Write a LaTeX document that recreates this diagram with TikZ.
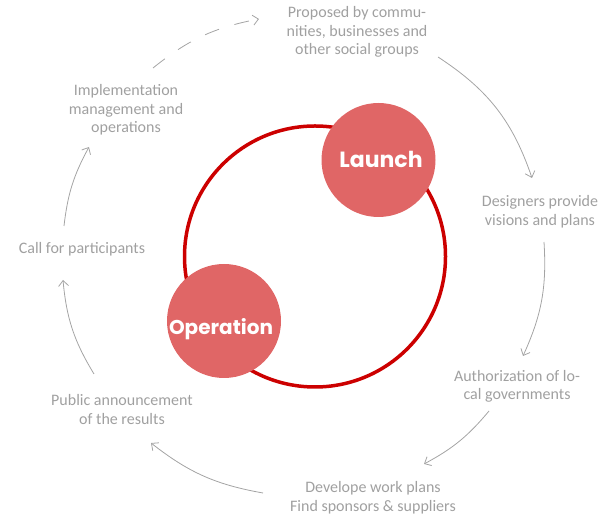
\documentclass[tikz,border=0pt]{standalone}
\usepackage{fontspec}
\setmainfont{Carlito}
\newfontfamily\headfont{Poppins}
\usetikzlibrary{arrows.meta}
\definecolor{txtgray}{HTML}{A0A0A0}
\definecolor{linegray}{HTML}{A4A4A4}
\definecolor{ringred}{HTML}{CC0000}
\definecolor{discred}{HTML}{E06666}
\begin{document}
\begin{tikzpicture}[x=1pt,y=1pt,
  steplabel/.style={font=\fontsize{16}{18.5}\selectfont, text=txtgray, align=center, inner sep=0pt},
  flow/.style={draw=linegray, line width=0.8pt, -{Straight Barb[length=5.5pt,width=10pt]}},
  disc/.style={circle, fill=discred, minimum size=114pt, inner sep=0pt},
  disctext/.style={text=white, inner sep=0pt, anchor=base, font=\headfont\bfseries\fontsize{22}{26}\selectfont}]
\useasboundingbox (0,0) rectangle (604,518);
% ring and discs
\node[circle, draw=ringred, line width=3.5pt, minimum size=261pt, inner sep=0pt] (ring) at (315,261.5) {};
\node[disc] (launch) at (378.5,358) {};
\node[disc] (operation) at (224,197) {};
\node[disctext] (launchtxt) at (381,350) {Launch};
\node[disctext, font=\headfont\bfseries\fontsize{20}{24}\selectfont] (operationtxt) at (221,183) {Operation};
% step labels
\node[steplabel] (proposed) at (357,486) {Proposed by commu-\\nities, businesses and\\other social groups};
\node[steplabel] (designers) at (540,306.5) {Designers provide\\visions and plans};
\node[steplabel] (author) at (517,131.5) {Authorization of lo-\\cal governments};
\node[steplabel] (develope) at (373,20.5) {Develope work plans\\Find sponsors \& suppliers};
\node[steplabel] (public) at (122,108.5) {Public announcement\\of the results};
\node[steplabel] (call) at (82,269) {Call for participants};
\node[steplabel] (impl) at (126,408) {Implementation\\management and\\operations};
% arrow end points
\coordinate (a1s) at (153,450); \coordinate (a1e) at (259,499);
\coordinate (a2s) at (438,461); \coordinate (a2e) at (532,340);
\coordinate (a3s) at (544,276); \coordinate (a3e) at (523,162);
\coordinate (a4s) at (489,107); \coordinate (a4e) at (424,54);
\coordinate (a5s) at (263,25);  \coordinate (a5e) at (151,75);
\coordinate (a6s) at (94,144);  \coordinate (a6e) at (63,238);
\coordinate (a7s) at (64,292);  \coordinate (a7e) at (89,371);
% arrows
\draw[flow, dash pattern=on 15pt off 16pt] (a1s) to[bend left=14] (a1e);
\draw[flow] (a2s) to[bend left=19] (a2e);
\draw[flow] (a3s) to[bend left=14] (a3e);
\draw[flow] (a4s) to[bend left=11] (a4e);
\draw[flow] (a5s) to[bend left=14] (a5e);
\draw[flow] (a6s) to[bend left=13] (a6e);
\draw[flow] (a7s) to[bend left=11] (a7e);
\end{tikzpicture}
\end{document}
